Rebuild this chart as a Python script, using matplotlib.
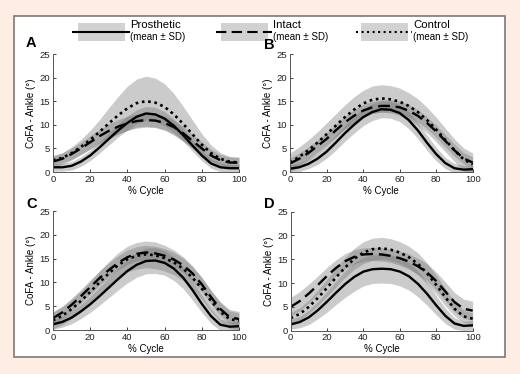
import numpy as np
import matplotlib.pyplot as plt
from matplotlib.patches import Rectangle

plt.rcParams['font.family'] = ['Liberation Sans', 'DejaVu Sans']

cycle = np.arange(0, 101, 5)

# Panel A
a_pros = [1.0, 1.0, 1.3, 2.2, 3.5, 5.2, 7.0, 8.8, 10.4, 11.7, 12.4, 12.2, 11.3, 9.8, 7.8, 5.6, 3.5, 1.8, 1.0, 0.8, 0.8]
a_pros_sd = [0.8, 0.8, 0.9, 1.0, 1.1, 1.2, 1.3, 1.4, 1.5, 1.5, 1.5, 1.5, 1.5, 1.4, 1.3, 1.2, 1.1, 1.0, 0.9, 0.8, 0.8]
a_int = [2.2, 2.8, 3.8, 5.0, 6.3, 7.6, 8.7, 9.6, 10.3, 10.8, 11.0, 10.9, 10.4, 9.5, 8.2, 6.6, 5.0, 3.5, 2.5, 2.0, 2.0]
a_int_sd = [1.2, 1.2, 1.3, 1.3, 1.4, 1.4, 1.5, 1.5, 1.5, 1.5, 1.5, 1.5, 1.5, 1.5, 1.5, 1.4, 1.4, 1.3, 1.2, 1.2, 1.2]
a_con = [2.5, 3.0, 4.0, 5.3, 6.8, 8.5, 10.3, 12.0, 13.5, 14.6, 15.0, 14.7, 13.8, 12.2, 10.2, 8.0, 5.8, 4.0, 2.8, 2.2, 2.0]
a_con_sd = [1.0, 1.1, 1.3, 1.6, 2.0, 2.6, 3.3, 4.0, 4.7, 5.1, 5.3, 5.2, 4.9, 4.4, 3.7, 3.0, 2.3, 1.7, 1.3, 1.1, 1.0]

# Panel B
b_pros = [0.7, 1.0, 1.7, 2.8, 4.3, 6.2, 8.2, 10.0, 11.6, 12.7, 13.3, 13.2, 12.5, 11.0, 8.8, 6.2, 3.8, 1.9, 0.8, 0.5, 0.6]
b_pros_sd = [0.8, 0.9, 1.0, 1.2, 1.4, 1.6, 1.7, 1.8, 1.8, 1.8, 1.8, 1.8, 1.8, 1.8, 1.7, 1.6, 1.4, 1.2, 1.0, 0.9, 0.8]
b_int = [1.8, 2.8, 4.0, 5.5, 7.0, 8.8, 10.5, 11.9, 13.0, 13.7, 14.0, 14.0, 13.7, 13.0, 11.9, 10.4, 8.6, 6.6, 4.6, 2.9, 2.0]
b_int_sd = [1.2, 1.2, 1.3, 1.3, 1.3, 1.3, 1.3, 1.3, 1.3, 1.3, 1.3, 1.3, 1.3, 1.3, 1.3, 1.3, 1.3, 1.3, 1.3, 1.2, 1.2]
b_con = [2.0, 3.2, 4.6, 6.2, 8.0, 9.8, 11.6, 13.2, 14.5, 15.3, 15.6, 15.4, 14.9, 14.0, 12.7, 11.0, 9.0, 6.8, 4.6, 2.7, 1.6]
b_con_sd = [2.0, 2.1, 2.2, 2.3, 2.4, 2.5, 2.6, 2.7, 2.8, 2.9, 2.9, 2.9, 2.9, 2.8, 2.8, 2.7, 2.6, 2.5, 2.4, 2.4, 2.4]

# Panel C
c_pros = [1.2, 1.7, 2.6, 3.9, 5.4, 7.1, 8.9, 10.7, 12.4, 13.7, 14.5, 14.6, 14.1, 12.9, 11.0, 8.4, 5.5, 2.9, 1.1, 0.7, 0.8]
c_pros_sd = [1.0, 1.1, 1.3, 1.5, 1.7, 1.9, 2.1, 2.3, 2.5, 2.6, 2.7, 2.7, 2.6, 2.5, 2.3, 2.1, 1.8, 1.5, 1.2, 1.0, 1.0]
c_int = [2.5, 3.7, 5.3, 7.1, 9.0, 10.9, 12.6, 14.1, 15.3, 16.0, 16.3, 16.1, 15.6, 14.8, 13.6, 11.9, 9.6, 6.9, 4.4, 2.7, 2.3]
c_int_sd = [1.3, 1.3, 1.4, 1.4, 1.5, 1.5, 1.5, 1.5, 1.5, 1.5, 1.5, 1.5, 1.5, 1.5, 1.5, 1.5, 1.5, 1.4, 1.4, 1.3, 1.3]
c_con = [2.0, 3.0, 4.4, 6.1, 8.0, 10.0, 11.9, 13.6, 14.9, 15.6, 15.9, 15.7, 15.1, 14.2, 12.9, 11.0, 8.7, 6.1, 3.8, 2.3, 1.9]
c_con_sd = [1.8, 1.9, 2.0, 2.1, 2.2, 2.4, 2.5, 2.6, 2.7, 2.8, 2.8, 2.8, 2.7, 2.6, 2.5, 2.4, 2.3, 2.2, 2.1, 2.0, 2.0]

# Panel D
d_pros = [1.3, 1.8, 2.8, 4.3, 6.1, 8.0, 9.8, 11.3, 12.4, 12.9, 13.0, 12.9, 12.4, 11.4, 9.8, 7.7, 5.3, 3.1, 1.5, 1.0, 1.1]
d_pros_sd = [1.0, 1.2, 1.5, 1.8, 2.2, 2.5, 2.8, 3.0, 3.0, 3.0, 3.0, 3.0, 3.0, 2.9, 2.7, 2.4, 2.0, 1.6, 1.2, 1.0, 1.0]
d_int = [5.0, 6.2, 7.8, 9.6, 11.5, 13.2, 14.6, 15.5, 16.0, 16.1, 16.0, 15.7, 15.2, 14.5, 13.5, 12.2, 10.4, 8.2, 6.0, 4.6, 4.2]
d_int_sd = [2.0, 2.0, 2.0, 1.9, 1.8, 1.7, 1.6, 1.5, 1.4, 1.4, 1.4, 1.4, 1.5, 1.6, 1.7, 1.8, 1.9, 2.0, 2.0, 2.0, 2.0]
d_con = [2.6, 3.5, 5.0, 6.9, 9.0, 11.2, 13.3, 15.1, 16.4, 17.1, 17.3, 17.0, 16.4, 15.4, 14.0, 12.0, 9.6, 7.0, 4.6, 3.0, 2.5]
d_con_sd = [1.2, 1.3, 1.4, 1.6, 1.8, 2.0, 2.1, 2.2, 2.3, 2.3, 2.3, 2.3, 2.3, 2.3, 2.3, 2.2, 2.0, 1.8, 1.5, 1.3, 1.2]

panels = [
    ('A', a_pros, a_pros_sd, a_int, a_int_sd, a_con, a_con_sd),
    ('B', b_pros, b_pros_sd, b_int, b_int_sd, b_con, b_con_sd),
    ('C', c_pros, c_pros_sd, c_int, c_int_sd, c_con, c_con_sd),
    ('D', d_pros, d_pros_sd, d_int, d_int_sd, d_con, d_con_sd),
]

bg = '#FDEDE2'
band_col = '0.45'
band_alpha = 0.37
dash = (0, (5, 2.5))
dots = (0, (1, 1.4))

fig = plt.figure(figsize=(5.2, 3.74), dpi=100, facecolor=bg)

# white panel with grey frame (behind everything)
fig.patches.append(Rectangle((0.027, 0.0455), 0.944, 0.912, transform=fig.transFigure,
                             facecolor='white', edgecolor='#7a7a7a', linewidth=1.2, zorder=-10))

# axes positions [left, bottom, width, height]
pos = {
    'A': [0.1019, 0.5401, 0.3577, 0.3155],
    'B': [0.5577, 0.5401, 0.3513, 0.3155],
    'C': [0.1019, 0.1176, 0.3577, 0.3182],
    'D': [0.5590, 0.1160, 0.3500, 0.3182],
}
letter_pos = {'A': (26, 47), 'B': (264, 49), 'C': (26, 208), 'D': (264, 208)}

for name, pm, ps, im, isd, cm, csd in panels:
    ax = fig.add_axes(pos[name])
    ax.set_facecolor('none')
    for m, s in ((pm, ps), (im, isd), (cm, csd)):
        m = np.array(m)
        s = np.array(s)
        ax.fill_between(cycle, m - s, m + s, color=band_col, alpha=band_alpha, linewidth=0)
    ax.plot(cycle, pm, color='black', linewidth=1.7)
    ax.plot(cycle, im, color='black', linewidth=1.7, linestyle=dash)
    ax.plot(cycle, cm, color='black', linewidth=1.9, linestyle=dots)
    ax.set_xlim(0, 100)
    ax.set_ylim(0, 25)
    ax.set_xticks(range(0, 101, 20))
    ax.set_yticks(range(0, 26, 5))
    ax.tick_params(direction='in', length=2.5, width=0.6, labelsize=6.8, pad=2, colors='#222222')
    for sp in ('top', 'right'):
        ax.spines[sp].set_visible(False)
    for sp in ('left', 'bottom'):
        ax.spines[sp].set_color('#555555')
        ax.spines[sp].set_linewidth(0.7)
    ax.set_xlabel('% Cycle', fontsize=7, labelpad=1.5)
    ax.set_ylabel('CoFA - Ankle (°)', fontsize=7, labelpad=2.5)
    lx, ly = letter_pos[name]
    fig.text(lx / 520, 1 - ly / 374, name, fontsize=10.5, fontweight='bold', ha='left', va='baseline')

# legend drawn in pixel coordinates
lg = fig.add_axes([0, 0, 1, 1])
lg.set_xlim(0, 520)
lg.set_ylim(374, 0)
lg.axis('off')
legend_items = [
    ('Prosthetic', 78, '-'),
    ('Intact', 221, dash),
    ('Control', 361, ':'),
]
for label, x0, ls in legend_items:
    lg.add_patch(Rectangle((x0, 22.5), 47, 18.5, facecolor='#d2d2d2', edgecolor='none'))
    lg.plot([x0 - 5, x0 + 51], [32, 32], color='black', linewidth=1.5, linestyle=ls)
    lg.text(x0 + 52, 24.5, label, fontsize=8.2, ha='left', va='center')
    lg.text(x0 + 52, 37, '(mean ± SD)', fontsize=7, ha='left', va='center')

plt.savefig('out.png', dpi=100, facecolor=bg)
